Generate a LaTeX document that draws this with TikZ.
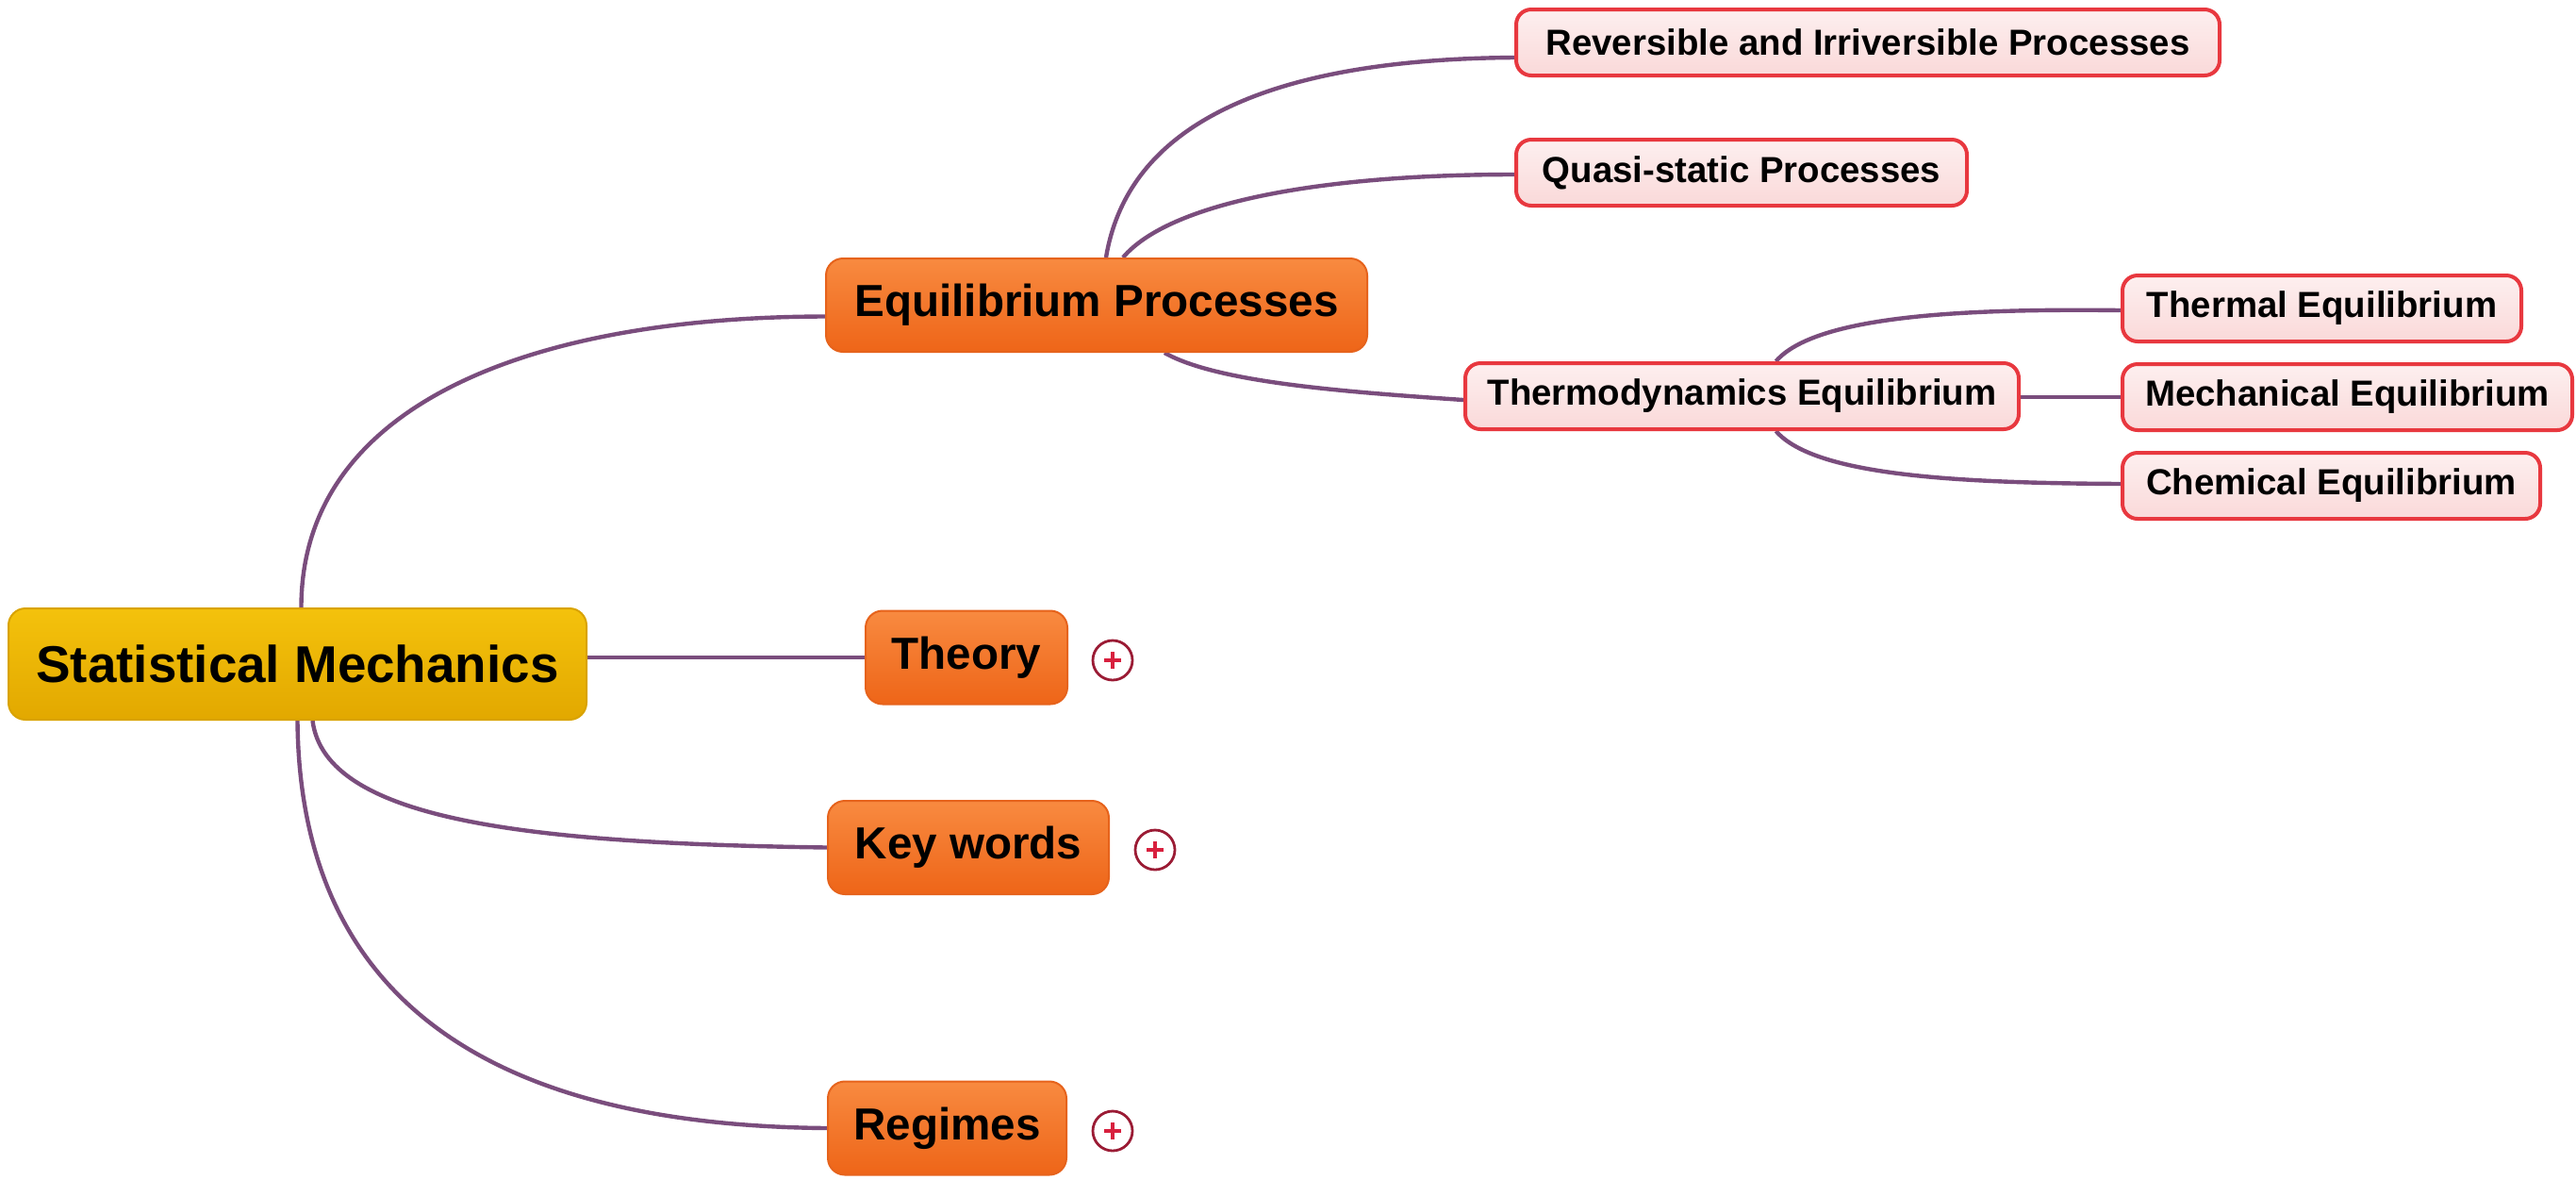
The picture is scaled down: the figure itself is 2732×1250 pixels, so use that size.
\documentclass[tikz,border=0pt]{standalone}
\usepackage{fontspec}
\setmainfont{Liberation Sans}
\usetikzlibrary{backgrounds}
\definecolor{linkc}{HTML}{7A4D7D}
\definecolor{roottop}{HTML}{F4C20C}
\definecolor{rootbot}{HTML}{E2A800}
\definecolor{rootdraw}{HTML}{D9A300}
\definecolor{mtop}{HTML}{F88A40}
\definecolor{mbot}{HTML}{EE6518}
\definecolor{mdraw}{HTML}{E6631C}
\definecolor{ctop}{HTML}{FDEFEF}
\definecolor{cbot}{HTML}{FAD9D9}
\definecolor{cdraw}{HTML}{E8383F}
\definecolor{ringc}{HTML}{9B1C35}
\definecolor{plusc}{HTML}{D8203E}
\begin{document}
\begin{tikzpicture}[x=0.5pt,y=-0.5pt,
  link/.style={draw=linkc, line width=2.2pt},
  rootbox/.style={rounded corners=9pt, draw=rootdraw, line width=1pt,
    top color=roottop, bottom color=rootbot, inner sep=0pt,
    minimum width=306.5pt, minimum height=59pt,
    font=\bfseries\fontsize{27.4}{30}\selectfont},
  mainbox/.style={rounded corners=9pt, draw=mdraw, line width=1pt,
    top color=mtop, bottom color=mbot, inner sep=0pt,
    minimum height=49.5pt, font=\bfseries\fontsize{23.8}{26}\selectfont},
  leafbox/.style={rounded corners=8pt, draw=cdraw, line width=2pt,
    top color=ctop, bottom color=cbot, inner sep=0pt,
    minimum height=35pt, font=\bfseries\fontsize{19.2}{22}\selectfont},
  plusring/.style={circle, draw=ringc, line width=1.4pt, fill=white,
    minimum size=21pt, inner sep=0pt},
  plusmark/.style={draw=plusc, line width=1.8pt}
]
\useasboundingbox (0,0) rectangle (2732,1250);

% central topic
\node[rootbox] (sm) at (315.5,704) {Statistical Mechanics};

% main branches
\node[mainbox, minimum width=287pt] (ep) at (1163,323.5) {Equilibrium Processes};
\node[mainbox, minimum width=107pt] (th) at (1025,697) {Theory};
\node[mainbox, minimum width=149pt] (kw) at (1027,898.5) {Key words};
\node[mainbox, minimum width=126.5pt] (rg) at (1004.5,1196) {Regimes};

% collapsed-branch markers
\node[plusring] (p1) at (1180,700) {};
\node[plusring] (p2) at (1225,901) {};
\node[plusring] (p3) at (1180,1199) {};
\foreach \p in {p1,p2,p3}{
  \draw[plusmark] ([xshift=-4.5pt]\p.center) -- ([xshift=4.5pt]\p.center)
                  ([yshift=-4.5pt]\p.center) -- ([yshift=4.5pt]\p.center);
}

% sub-topics of Equilibrium Processes
\node[leafbox, minimum width=373pt] (rev) at (1981,45) {Reversible and Irriversible Processes};
\node[leafbox, minimum width=239pt] (qs) at (1847,183) {Quasi-static Processes};
\node[leafbox, minimum width=293.5pt] (td) at (1847.5,420) {Thermodynamics Equilibrium};

% sub-topics of Thermodynamics Equilibrium
\node[leafbox, minimum width=211.5pt] (tq) at (2462.5,327) {Thermal Equilibrium};
\node[leafbox, minimum width=238.5pt] (mq) at (2489.5,421) {Mechanical Equilibrium};
\node[leafbox, minimum width=221.5pt] (cq) at (2472.5,515) {Chemical Equilibrium};

\begin{scope}[on background layer]
  % root links
  \draw[link] ([xshift=2pt]sm.north) .. controls ([xshift=2pt]sm.north |- 0,430) and (560,336) .. ([yshift=-6pt]ep.west);
  \draw[link] (sm.east |- th.west) -- (th.west);
  \draw[link] ([xshift=8pt]sm.south) .. controls (345,870) and (560,894) .. (kw.west);
  \draw[link] (sm.south) .. controls (318,1060) and (520,1193) .. (rg.west);
  % Equilibrium Processes links
  \draw[link] ([xshift=5pt]ep.north) .. controls (1195,140) and (1330,63) .. ([yshift=-8pt]rev.west);
  \draw[link] ([xshift=14pt]ep.north) .. controls (1240,215) and (1400,185) .. ([yshift=-1pt]qs.west);
  \draw[link] ([xshift=36pt]ep.south) .. controls (1290,405) and (1420,415) .. ([yshift=-2pt]td.west);
  % Thermodynamics Equilibrium links
  \draw[link] ([xshift=18pt]td.north) .. controls (1925,335) and (2080,327) .. ([yshift=-1pt]tq.west);
  \draw[link] (td.east |- mq.west) -- (mq.west);
  \draw[link] ([xshift=18pt]td.south) .. controls (1925,505) and (2080,512) .. ([yshift=1pt]cq.west);
\end{scope}
\end{tikzpicture}
\end{document}
